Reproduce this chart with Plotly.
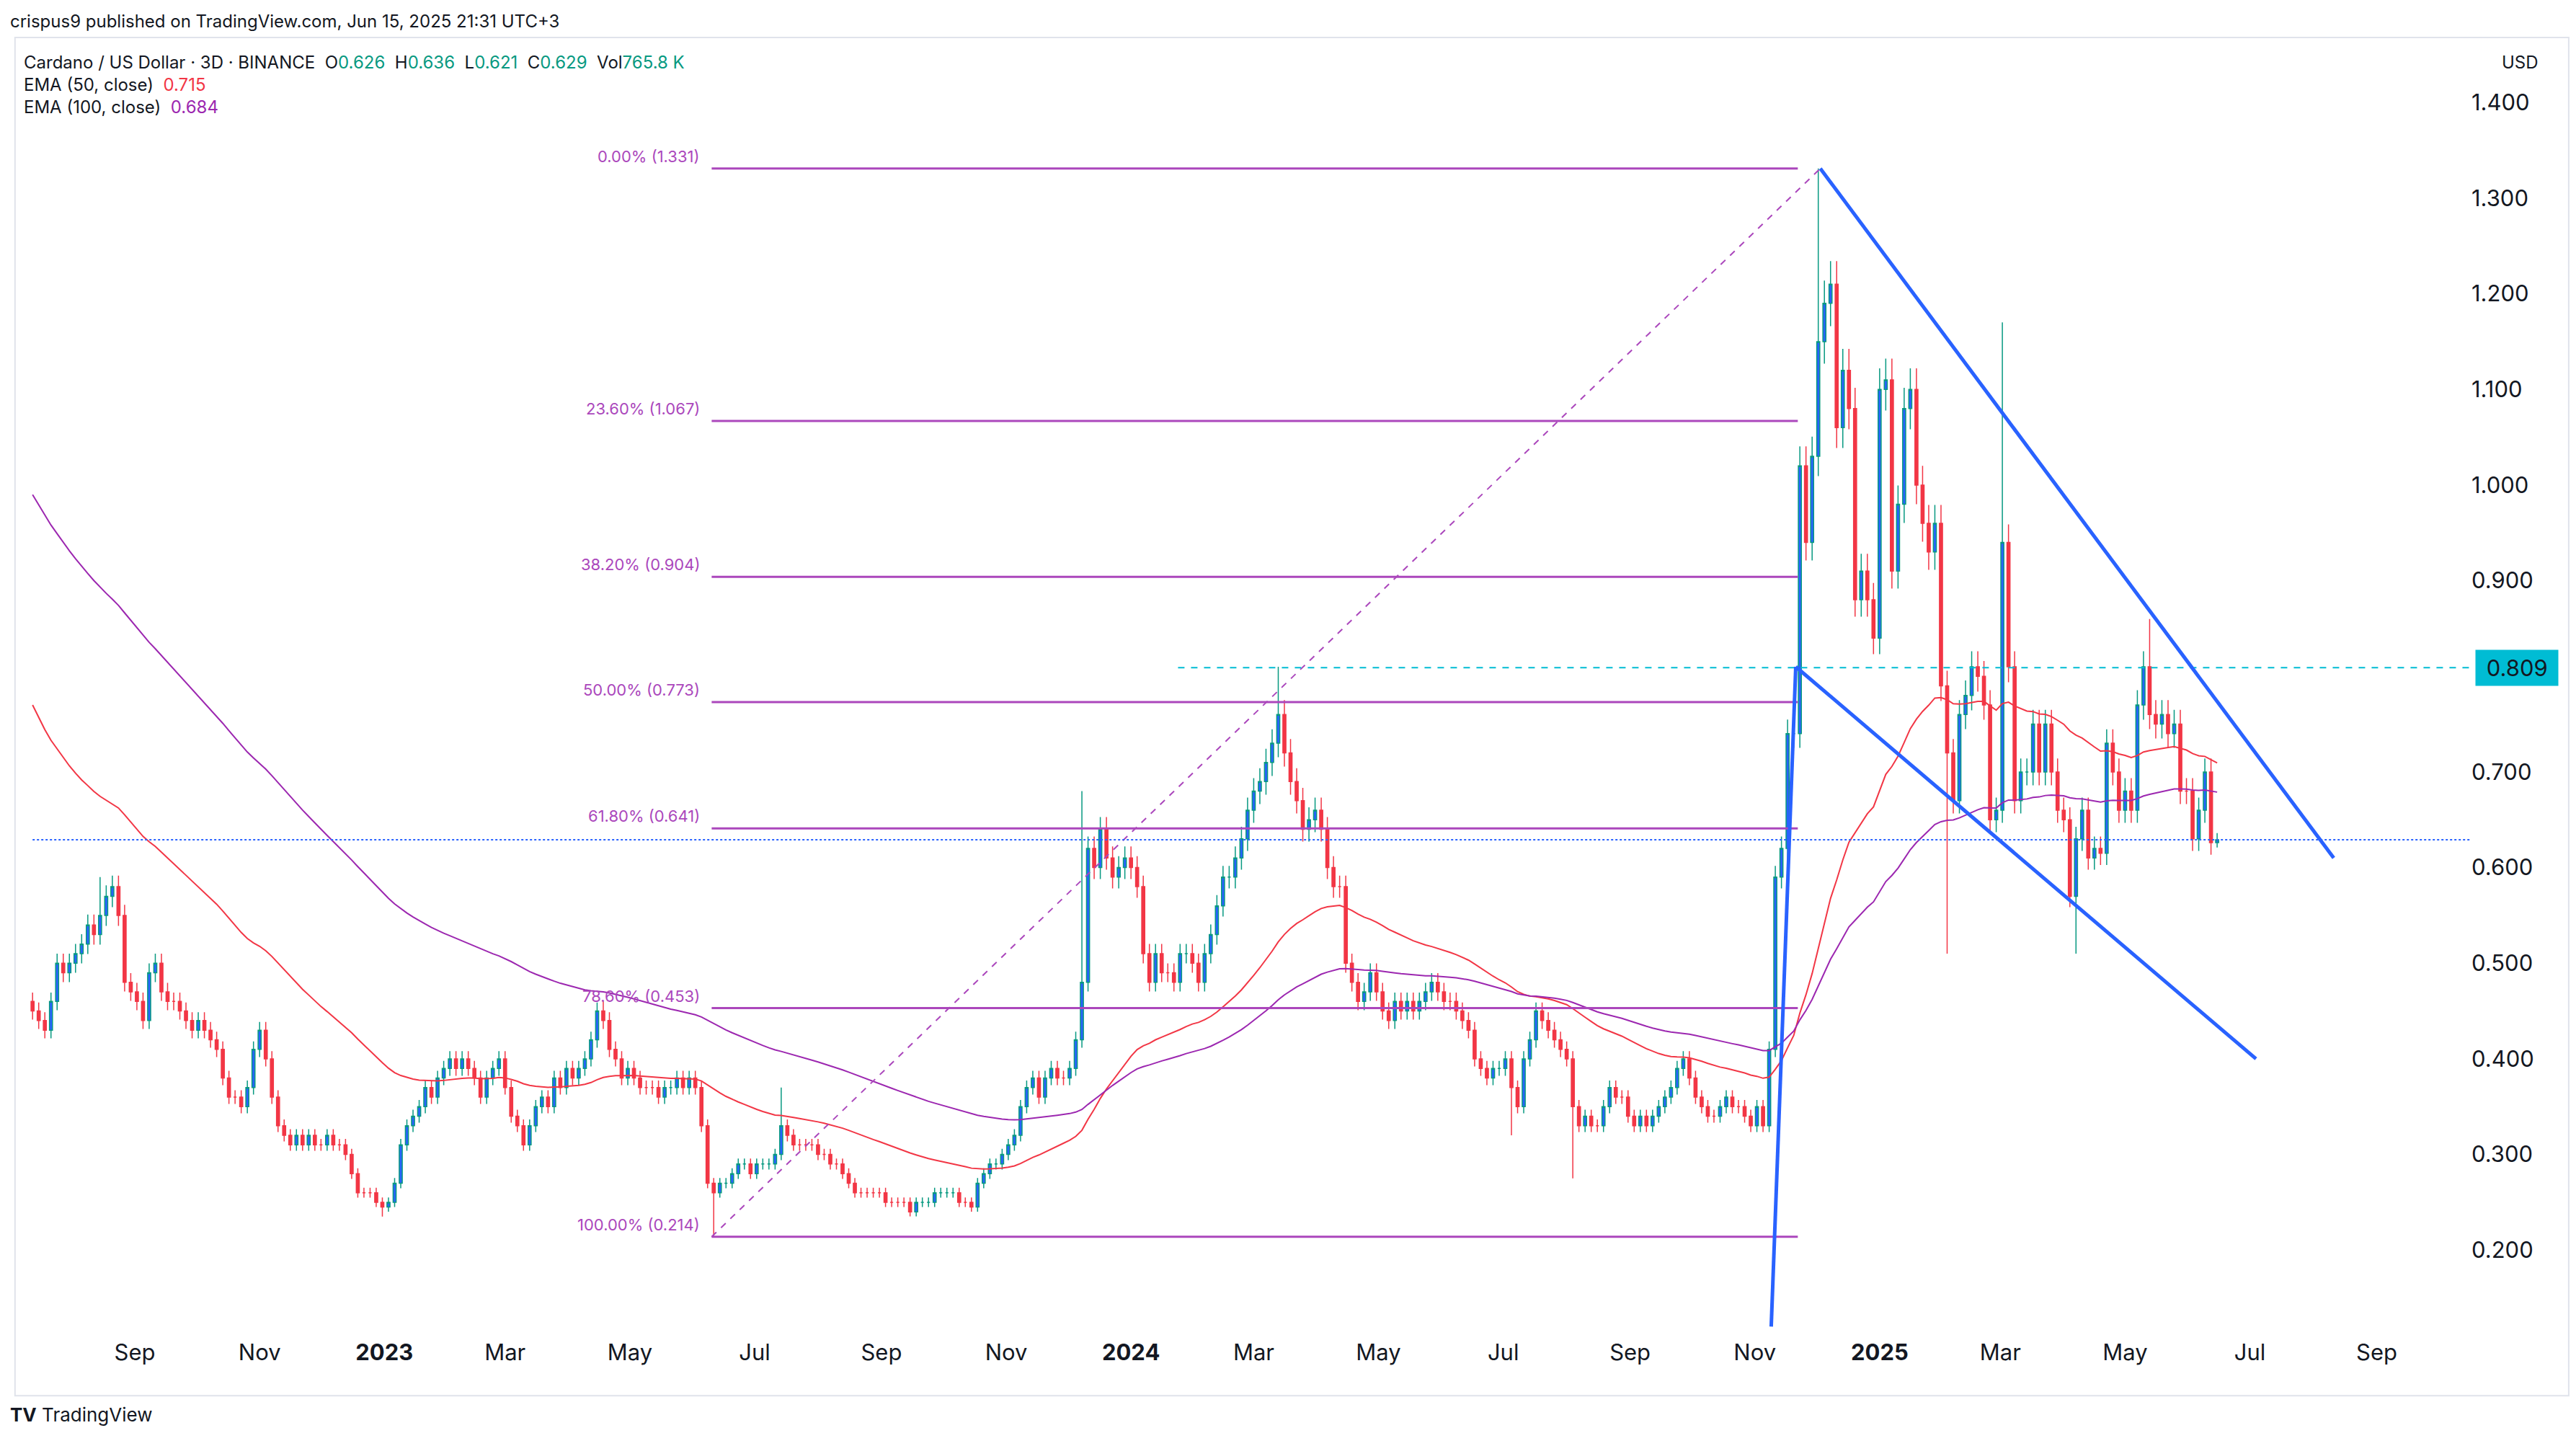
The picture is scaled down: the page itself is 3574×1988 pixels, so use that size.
import numpy as np
import pandas as pd
import plotly.graph_objects as go

# 3-day closes, Jul 2022 -> Jun 15 2025
closes_2022 = [0.45, 0.44, 0.43, 0.46, 0.50, 0.49, 0.50, 0.51,
               0.52, 0.54, 0.53, 0.55, 0.57, 0.58, 0.55, 0.48, 0.47, 0.46,
               0.44, 0.49, 0.50, 0.47, 0.46, 0.46, 0.45, 0.44, 0.43, 0.44,
               0.43, 0.42, 0.41, 0.38, 0.36, 0.36, 0.35, 0.37, 0.41, 0.43,
               0.40, 0.36, 0.33, 0.32, 0.31, 0.32, 0.31, 0.32, 0.31, 0.31,
               0.32, 0.31, 0.31, 0.30, 0.28, 0.26, 0.26, 0.26, 0.25, 0.245]
closes_2023 = [0.25, 0.27, 0.31, 0.33, 0.34, 0.35, 0.37, 0.36, 0.38, 0.39, 0.40,
               0.39, 0.40, 0.39, 0.38, 0.36, 0.38, 0.39, 0.40, 0.37,
               0.34, 0.33, 0.31, 0.33, 0.35, 0.36, 0.35, 0.38, 0.37, 0.39,
               0.38, 0.39, 0.40, 0.42, 0.45, 0.44, 0.41, 0.40, 0.38, 0.39,
               0.38, 0.37, 0.37, 0.37, 0.36, 0.37, 0.37, 0.38, 0.37, 0.38,
               0.37, 0.33, 0.27, 0.26, 0.27, 0.27, 0.28, 0.29, 0.29, 0.28,
               0.29, 0.29, 0.29, 0.30, 0.33, 0.32, 0.31, 0.31, 0.31, 0.31, 0.30,
               0.30, 0.29, 0.29, 0.28, 0.27, 0.26, 0.26, 0.26, 0.26, 0.26,
               0.25, 0.25, 0.25, 0.25, 0.24, 0.25, 0.25, 0.25, 0.26, 0.26,
               0.26, 0.26, 0.25, 0.25, 0.245, 0.27, 0.28, 0.29, 0.29, 0.30, 0.31,
               0.32, 0.35, 0.37, 0.38, 0.36, 0.38, 0.39, 0.38, 0.38, 0.39,
               0.42, 0.48, 0.62, 0.60, 0.64, 0.61, 0.59, 0.60, 0.61, 0.60]
closes_2024 = [0.58, 0.51, 0.48, 0.51, 0.49, 0.49, 0.48, 0.51, 0.51, 0.50,
               0.48, 0.51, 0.53, 0.56, 0.59, 0.59, 0.61, 0.63, 0.66, 0.68, 0.69,
               0.71, 0.73, 0.76, 0.72, 0.69, 0.67, 0.64, 0.65, 0.66, 0.64,
               0.60, 0.58, 0.58, 0.50, 0.48, 0.46, 0.47, 0.49, 0.47, 0.45,
               0.44, 0.46, 0.45, 0.46, 0.45, 0.46, 0.47, 0.48, 0.47, 0.46,
               0.46, 0.45, 0.44, 0.43, 0.40, 0.39, 0.38, 0.39, 0.39, 0.40,
               0.37, 0.35, 0.40, 0.42, 0.45, 0.44, 0.43, 0.42, 0.41, 0.40,
               0.35, 0.33, 0.34, 0.33, 0.33, 0.35, 0.37, 0.36, 0.36, 0.34,
               0.33, 0.34, 0.33, 0.34, 0.35, 0.36, 0.37, 0.39, 0.40, 0.38,
               0.36, 0.35, 0.34, 0.34, 0.35, 0.36, 0.35, 0.35, 0.34, 0.33,
               0.35, 0.33, 0.41, 0.59, 0.62, 0.74, 0.74, 1.02, 0.94, 1.03,
               1.15, 1.19, 1.21, 1.06, 1.12, 1.08, 0.88, 0.91, 0.88, 0.84]
closes_2025 = [1.10, 1.11, 0.91, 0.98, 1.08, 1.10, 1.00, 0.96, 0.93, 0.96,
               0.79, 0.72, 0.67, 0.76, 0.78, 0.81, 0.80, 0.77, 0.65, 0.66,
               0.94, 0.81, 0.67, 0.70, 0.70, 0.75, 0.70, 0.75, 0.70, 0.66,
               0.65, 0.57, 0.63, 0.66, 0.61, 0.62, 0.615, 0.73, 0.70, 0.66,
               0.68, 0.66, 0.77, 0.81, 0.76, 0.75, 0.76, 0.74, 0.75, 0.68,
               0.68, 0.63, 0.66, 0.70, 0.626, 0.629]

# notable wick extremes
spike_highs = {'2022-08-14': 0.59, '2023-04-17': 0.46, '2023-07-14': 0.37,
               '2023-12-08': 0.68, '2024-03-14': 0.81, '2024-12-03': 1.331,
               '2025-03-02': 1.17, '2025-05-12': 0.86, '2025-06-15': 0.636}
spike_lows = {'2022-12-30': 0.235, '2023-06-10': 0.214, '2024-07-05': 0.32,
              '2024-08-05': 0.275, '2025-02-03': 0.51, '2025-04-07': 0.51,
              '2025-06-15': 0.621}

ema50_start = 0.77
ema100_start = 0.99

fib_levels = [1.331, 1.067, 0.904, 0.773, 0.641, 0.453, 0.214]
fib_pcts = ['0.00%', '23.60%', '38.20%', '50.00%', '61.80%', '78.60%', '100.00%']

price_ticks = [0.2, 0.3, 0.4, 0.5, 0.6, 0.7, 0.9, 1.0, 1.1, 1.2, 1.3, 1.4]
tick_dates = ['2022-09-01', '2022-11-01', '2023-01-01', '2023-03-01', '2023-05-01', '2023-07-01',
              '2023-09-01', '2023-11-01', '2024-01-01', '2024-03-01', '2024-05-01', '2024-07-01',
              '2024-09-01', '2024-11-01', '2025-01-01', '2025-03-01', '2025-05-01', '2025-07-01',
              '2025-09-01']
tick_text = ['Sep', 'Nov', '<b>2023</b>', 'Mar', 'May', 'Jul', 'Sep', 'Nov', '<b>2024</b>', 'Mar',
             'May', 'Jul', 'Sep', 'Nov', '<b>2025</b>', 'Mar', 'May', 'Jul', 'Sep']

closes = np.array(closes_2022 + closes_2023 + closes_2024 + closes_2025)
dates = pd.date_range(end='2025-06-15', periods=len(closes), freq='3D')
opens = np.concatenate([[0.46], closes[:-1]])
highs = np.maximum(opens, closes) * 1.02
lows = np.minimum(opens, closes) * 0.98


def nearest(d):
    return int(np.argmin(np.abs(dates - pd.Timestamp(d))))


for d, v in spike_highs.items():
    highs[nearest(d)] = v
for d, v in spike_lows.items():
    lows[nearest(d)] = v
opens[-1] = 0.626


def ema(vals, span, start):
    a = 2 / (span + 1)
    out = [start]
    for v in vals[1:]:
        out.append(out[-1] + a * (v - out[-1]))
    return out


BLUE = '#2962ff'
PURPLE = '#ab47bc'
fig = go.Figure()
fig.add_trace(go.Candlestick(
    x=dates, open=opens, high=highs, low=lows, close=closes,
    increasing=dict(line=dict(color='#089981', width=1.5), fillcolor=BLUE),
    decreasing=dict(line=dict(color='#f23645', width=1.5), fillcolor='#f23645'),
    whiskerwidth=0, showlegend=False))
fig.add_trace(go.Scatter(x=dates, y=ema(closes, 50, ema50_start), mode='lines',
                         line=dict(color='#f23645', width=2), showlegend=False))
fig.add_trace(go.Scatter(x=dates, y=ema(closes, 100, ema100_start), mode='lines',
                         line=dict(color='#9c27b0', width=2), showlegend=False))

# fib retracement
fib_start, fib_end = '2023-06-10', '2024-11-22'
for lvl, pct in zip(fib_levels, fib_pcts):
    fig.add_shape(type='line', x0=fib_start, x1=fib_end, y0=lvl, y1=lvl,
                  line=dict(color=PURPLE, width=3))
    fig.add_annotation(x=fib_start, y=lvl, text=f'{pct} ({lvl:.3f})', showarrow=False,
                       xanchor='right', yanchor='bottom', xshift=-14, yshift=2,
                       font=dict(size=22, color=PURPLE))
fig.add_shape(type='line', x0=fib_start, x1='2024-12-03', y0=0.214, y1=1.331,
              line=dict(color=PURPLE, width=2, dash='dash'))

# price lines
fig.add_shape(type='line', x0='2024-01-24', x1='2025-10-17', y0=0.809, y1=0.809,
              line=dict(color='#00bcd4', width=2, dash='dash'))
fig.add_shape(type='line', x0=dates[0], x1='2025-10-17', y0=0.629, y1=0.629,
              line=dict(color=BLUE, width=2, dash='dot'))

# wedge lines
fig.add_shape(type='line', x0='2024-12-03', y0=1.331, x1='2025-08-11', y1=0.61,
              line=dict(color=BLUE, width=5))
fig.add_shape(type='line', x0='2024-11-21', y0=0.81, x1='2025-07-04', y1=0.40,
              line=dict(color=BLUE, width=5))
fig.add_shape(type='line', x0='2024-11-09', y0=0.12, x1='2024-11-21', y1=0.81,
              line=dict(color=BLUE, width=5))

# frame
fig.add_shape(type='rect', xref='paper', yref='paper', x0=-0.003, x1=1.04, y0=-0.045, y1=1.0,
              line=dict(color='#e0e3eb', width=2))

fig.add_annotation(xref='paper', yref='y', x=1.0, y=0.809, text=' 0.809 ', showarrow=False,
                   xanchor='left', xshift=6, bgcolor='#00bcd4', font=dict(size=31, color='#131722'),
                   borderpad=6)

hdr_font = dict(family='Inter, Roboto, sans-serif', size=24, color='#131722')
g = '#089981'
fig.add_annotation(xref='paper', yref='paper', x=-0.0055, y=1.0, xanchor='left', yanchor='bottom',
                   yshift=6, text='crispus9 published on TradingView.com, Jun 15, 2025 21:31 UTC+3',
                   showarrow=False, font=hdr_font)
fig.add_annotation(
    xref='paper', yref='paper', x=0.0, y=0.99, xanchor='left', yanchor='top', showarrow=False,
    align='left', font=hdr_font,
    text=(f'Cardano / US Dollar · 3D · BINANCE  O<span style="color:{g}">0.626</span>  '
          f'H<span style="color:{g}">0.636</span>  L<span style="color:{g}">0.621</span>  '
          f'C<span style="color:{g}">0.629</span>  Vol<span style="color:{g}">765.8 K</span><br>'
          'EMA (50, close)  <span style="color:#f23645">0.715</span><br>'
          'EMA (100, close)  <span style="color:#9c27b0">0.684</span>'))
fig.add_annotation(xref='paper', yref='paper', x=1.012, y=0.99, xanchor='left', yanchor='top',
                   text='USD', showarrow=False, font=hdr_font)
fig.add_annotation(xref='paper', yref='paper', x=-0.0055, y=0.0, xanchor='left', yanchor='middle',
                   yshift=-107, text='<b>TV</b> TradingView', showarrow=False,
                   font=dict(family='Inter, Roboto, sans-serif', size=26, color='#131722'))

fig.update_layout(
    width=3574, height=1988, plot_bgcolor='white', paper_bgcolor='white',
    margin=dict(l=23, r=154, t=44, b=141),
    font=dict(family='Inter, Roboto, sans-serif', color='#131722'),
    xaxis=dict(range=['2022-07-08', '2025-10-17'], rangeslider=dict(visible=False),
               tickvals=tick_dates, ticktext=tick_text, showgrid=False, ticks='',
               tickfont=dict(size=31), zeroline=False),
    yaxis=dict(side='right', range=[0.109, 1.468], tickvals=price_ticks,
               tickformat='.3f', showgrid=False, tickfont=dict(size=31), ticks='', zeroline=False),
)
fig.write_html('out.html')
